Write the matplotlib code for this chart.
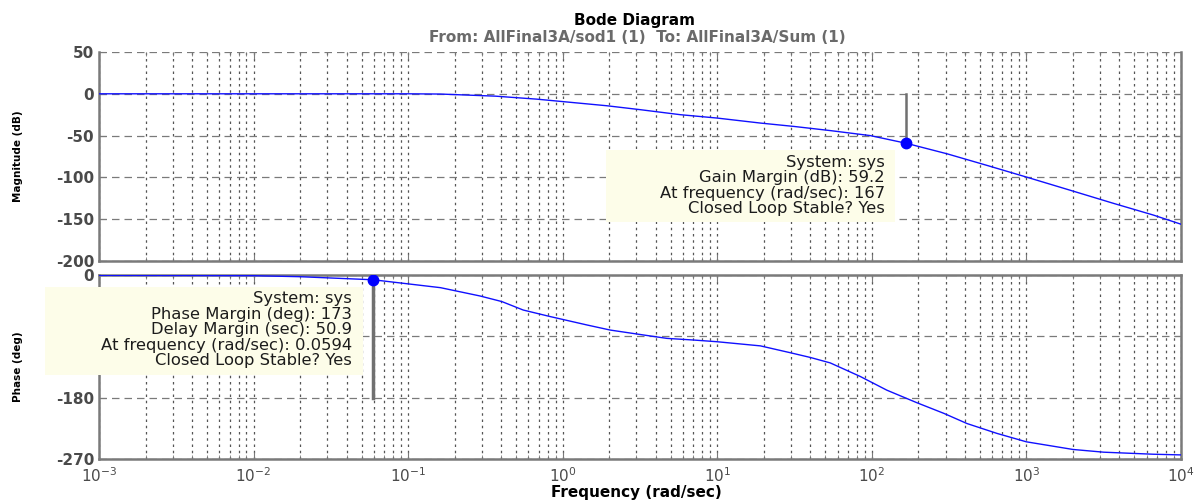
import matplotlib
matplotlib.use("Agg")
import matplotlib.pyplot as plt
from matplotlib.patches import Rectangle
from matplotlib.ticker import LogLocator, FixedLocator, NullFormatter

plt.rcParams['axes.unicode_minus'] = False
plt.rcParams['font.family'] = ['DejaVu Sans']

# ---------------- data ----------------
mag_freq = [0.001, 0.01, 0.1, 0.162, 0.366, 0.68, 1.93, 3.18, 5.77, 9.95,
            19.0, 31.2, 53.8, 97.7, 167, 307, 557, 1000, 1930, 3650, 6610, 10000]
mag_db = [0, 0, 0, -0.3, -2.8, -6.4, -14.3, -19, -25, -29,
          -35, -39, -44, -50, -59.2, -71.8, -85.7, -99.6, -115.5, -131, -145, -156]

ph_freq = [0.001, 0.01, 0.02, 0.0594, 0.162, 0.292, 0.404, 0.555, 0.83, 1.44,
           2.03, 3.02, 4.72, 7.0, 9.95, 19.0, 29.6, 40.0, 53.8, 84.3, 125,
           196, 292, 413, 646, 1000, 2000, 3160, 6610, 10000]
ph_deg = [-0.5, -1, -2.5, -7, -18.6, -30.8, -39, -51.4, -61, -73.4,
          -80.8, -86.6, -93, -95.4, -97.9, -104, -114, -121, -129, -149, -169,
          -187.5, -203, -218, -232.5, -244.8, -256, -260, -263, -264]

gm_freq, gm_db = 167, -59.2
pm_freq, pm_deg = 0.0594, -7

freq_ticks = [1e-3, 1e-2, 1e-1, 1e0, 1e1, 1e2, 1e3, 1e4]
freq_tick_labels = [r'$10^{-3}$', r'$10^{-2}$', r'$10^{-1}$', r'$10^{0}$',
                    r'$10^{1}$', r'$10^{2}$', r'$10^{3}$', r'$10^{4}$']
mag_ticks = [-200, -150, -100, -50, 0, 50]
ph_ticks = [-270, -180, -90, 0]

title = "Bode Diagram"
subtitle = "From: AllFinal3A/sod1 (1)  To: AllFinal3A/Sum (1)"
gm_lines = ["System: sys", "Gain Margin (dB): 59.2",
            "At frequency (rad/sec): 167", "Closed Loop Stable? Yes"]
pm_lines = ["System: sys", "Phase Margin (deg): 173", "Delay Margin (sec): 50.9",
            "At frequency (rad/sec): 0.0594", "Closed Loop Stable? Yes"]

# ---------------- layout helpers ----------------
W, H = 1195, 501
def fx(x): return x / W
def fy(y): return 1 - y / H

fig = plt.figure(figsize=(W / 100, H / 100), dpi=100)
fig.patch.set_facecolor('white')

ax1 = fig.add_axes([fx(99), fy(261), fx(1181) - fx(99), fy(52) - fy(261)])
ax2 = fig.add_axes([fx(99), fy(459), fx(1181) - fx(99), fy(275) - fy(459)])

spine_col = '#7a7a7a'
tick_col = '#4a4a4a'
blue = '#1010ff'

for ax in (ax1, ax2):
    ax.set_xscale('log')
    ax.set_xlim(freq_ticks[0], freq_ticks[-1])
    ax.xaxis.set_major_locator(FixedLocator(freq_ticks))
    ax.xaxis.set_minor_locator(LogLocator(base=10, subs=range(2, 10), numticks=100))
    ax.xaxis.set_minor_formatter(NullFormatter())
    for s in ax.spines.values():
        s.set_color(spine_col)
        s.set_linewidth(1.8)
    ax.tick_params(which='both', direction='in', top=True, right=True,
                   colors=spine_col, labelcolor=tick_col)
    ax.tick_params(which='major', length=5)
    ax.tick_params(which='minor', length=3)
    ax.grid(True, which='major', axis='y', linestyle=(0, (6, 4)), color='#7a7a7a', lw=0.9)
    ax.grid(True, which='both', axis='x', linestyle=(0, (2, 3)), color='#555555', lw=0.9)
    ax.set_axisbelow(True)

ax1.spines['top'].set_visible(False)

# magnitude
ax1.plot(mag_freq, mag_db, color=blue, lw=1.0, zorder=3)
ax1.set_ylim(-200, 50)
ax1.yaxis.set_major_locator(FixedLocator(mag_ticks))
ax1.tick_params(axis='x', labelbottom=False)
for lab in ax1.get_yticklabels():
    lab.set_fontweight('bold')
    lab.set_fontsize(11)
ax1.plot([gm_freq, gm_freq], [0, gm_db], color='#707070', lw=1.8, zorder=3)
ax1.plot([gm_freq], [gm_db], 'o', color='#0000ff', ms=7.5, zorder=4)
ax1.set_ylabel("Magnitude (dB)", fontsize=7.5, fontweight='bold')

# phase
ax2.plot(ph_freq, ph_deg, color=blue, lw=1.0, zorder=3)
ax2.set_ylim(-270, 0)
ax2.yaxis.set_major_locator(FixedLocator(ph_ticks))
for lab in ax2.get_yticklabels():
    lab.set_fontweight('bold')
    lab.set_fontsize(11)
ax2.set_xticklabels(freq_tick_labels, fontsize=11)
ax2.tick_params(axis='x', which='major', pad=5)
ax2.plot([pm_freq, pm_freq], [pm_deg, -180], color='#707070', lw=2.5, zorder=3)
ax2.plot([pm_freq], [pm_deg], 'o', color='#0000ff', ms=7.5, zorder=4)
ax2.set_ylabel("Phase (deg)", fontsize=7.5, fontweight='bold')

ax1.yaxis.set_label_coords(-0.070, 0.5)
ax2.yaxis.set_label_coords(-0.070, 0.5)

# x label, placed below the tick labels
fig.text(fx(636), fy(493), "Frequency (rad/sec)", ha='center', va='center',
         fontsize=11, fontweight='bold', color='black')

# titles
fig.text(fx(634), fy(20), title, ha='center', va='center', fontsize=11,
         fontweight='bold', color='black')
fig.text(fx(637), fy(37), subtitle, ha='center', va='center', fontsize=11,
         fontweight='bold', color='#6a6a6a')

# data tip boxes
box_col = '#fdfde9'
fig.patches.append(Rectangle((fx(606), fy(222)), fx(895) - fx(606), fy(150) - fy(222),
                             transform=fig.transFigure, facecolor=box_col,
                             edgecolor='none', zorder=5))
for i, t in enumerate(gm_lines):
    fig.text(fx(885), fy(162 + 15.6 * i), t, ha='right', va='center',
             fontsize=11.8, color='#1c1c1c', zorder=6)

fig.patches.append(Rectangle((fx(45), fy(375)), fx(363) - fx(45), fy(287) - fy(375),
                             transform=fig.transFigure, facecolor=box_col,
                             edgecolor='none', zorder=5))
for i, t in enumerate(pm_lines):
    fig.text(fx(352), fy(299 + 15.4 * i), t, ha='right', va='center',
             fontsize=11.8, color='#1c1c1c', zorder=6)

fig.savefig("out.png", dpi=100)
